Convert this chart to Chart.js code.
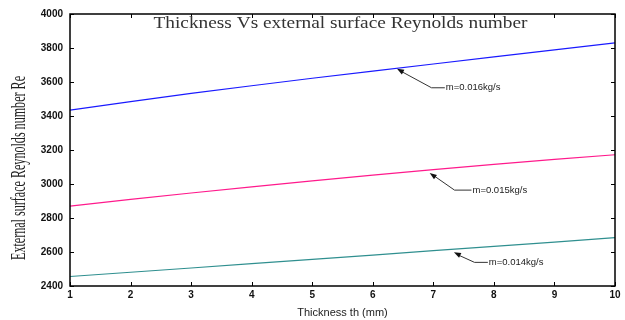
<!DOCTYPE html>
<html>
<head>
<meta charset="utf-8">
<script src="https://cdn.jsdelivr.net/npm/chart.js@4.4.1/dist/chart.umd.min.js"></script>
<style>
  html, body { margin: 0; padding: 0; background: #fff; }
  #wrap { width: 625px; height: 320px; }
</style>
</head>
<body>
<div id="wrap"><canvas id="c" width="625" height="320"></canvas></div>
<script>
// ---- data ----
const thickness = [1, 2, 3, 4, 5, 6, 7, 8, 9, 10];
const re016 = [3435, 3485, 3533, 3578, 3622, 3664, 3706, 3748, 3789, 3830];
const re015 = [2870, 2910, 2947, 2983, 3018, 3052, 3085, 3116, 3145, 3172];
const re014 = [2456, 2481, 2506, 2532, 2557, 2582, 2608, 2633, 2658, 2684];
const xTicks = [1, 2, 3, 4, 5, 6, 7, 8, 9, 10];
const yTicks = [2400, 2600, 2800, 3000, 3200, 3400, 3600, 3800, 4000];
const seriesLabels = ['m=0.016kg/s', 'm=0.015kg/s', 'm=0.014kg/s'];
const titleText = 'Thickness Vs external surface Reynolds number';
const xTitle = 'Thickness th (mm)';
const yTitle = 'External surface Reynolds number Re';

// callouts in data coordinates: arrow tip, elbow, end of leader
const callouts = [
  { text: seriesLabels[0], tip: [6.40, 3678], elbow: [6.97, 3566], end: [7.19, 3566] },
  { text: seriesLabels[1], tip: [6.94, 3064], elbow: [7.35, 2964], end: [7.63, 2964] },
  { text: seriesLabels[2], tip: [7.34, 2598], elbow: [7.68, 2539], end: [7.90, 2539] }
];

const toXY = arr => arr.map((v, i) => ({ x: thickness[i], y: v }));

const framePlugin = {
  id: 'frame',
  afterDatasetsDraw(chart) {
    const { ctx, chartArea: a, scales: { x, y } } = chart;
    ctx.save();
    // inward ticks on all four sides
    ctx.strokeStyle = '#000';
    ctx.lineWidth = 1;
    const tl = 4;
    ctx.beginPath();
    xTicks.forEach(t => {
      const px = Math.round(x.getPixelForValue(t)) + 0.5;
      ctx.moveTo(px, a.bottom); ctx.lineTo(px, a.bottom - tl);
      ctx.moveTo(px, a.top); ctx.lineTo(px, a.top + tl);
    });
    yTicks.forEach(t => {
      const py = Math.round(y.getPixelForValue(t)) + 0.5;
      ctx.moveTo(a.left, py); ctx.lineTo(a.left + tl, py);
      ctx.moveTo(a.right, py); ctx.lineTo(a.right - tl, py);
    });
    ctx.stroke();
    // frame
    ctx.lineWidth = 1.5;
    ctx.strokeRect(a.left, a.top, a.right - a.left, a.bottom - a.top);

    // title inside plot
    ctx.fillStyle = '#333';
    ctx.font = '17px "Liberation Serif", "Times New Roman", serif';
    ctx.textAlign = 'center';
    ctx.textBaseline = 'middle';
    const tw = ctx.measureText(titleText).width;
    const cx = (a.left + a.right) / 2 - 2;
    ctx.save();
    ctx.translate(cx, a.top + 10);
    ctx.scale(374 / tw, 1);
    ctx.fillText(titleText, 0, 0);
    ctx.restore();

    // y axis title (condensed serif)
    ctx.save();
    ctx.font = '20px "Liberation Serif", "Times New Roman", serif';
    const yw = ctx.measureText(yTitle).width;
    ctx.translate(20, 168);
    ctx.rotate(-Math.PI / 2);
    ctx.scale(184 / yw, 1);
    ctx.fillStyle = '#222';
    ctx.fillText(yTitle, 0, 0);
    ctx.restore();

    // callouts
    callouts.forEach(c => {
      const tx = x.getPixelForValue(c.tip[0]), ty = y.getPixelForValue(c.tip[1]);
      const ex = x.getPixelForValue(c.elbow[0]), ey = y.getPixelForValue(c.elbow[1]);
      const nx = x.getPixelForValue(c.end[0]), ny = y.getPixelForValue(c.end[1]);
      ctx.strokeStyle = '#333';
      ctx.lineWidth = 1;
      ctx.beginPath();
      ctx.moveTo(nx, ny); ctx.lineTo(ex, ey); ctx.lineTo(tx + 4, ty + 2.5);
      ctx.stroke();
      // arrow head
      const ang = Math.atan2(ty - ey, tx - ex);
      const L = 7, W = 2.6;
      ctx.fillStyle = '#111';
      ctx.beginPath();
      ctx.moveTo(tx, ty);
      ctx.lineTo(tx - L * Math.cos(ang) + W * Math.sin(ang), ty - L * Math.sin(ang) - W * Math.cos(ang));
      ctx.lineTo(tx - L * Math.cos(ang) - W * Math.sin(ang), ty - L * Math.sin(ang) + W * Math.cos(ang));
      ctx.closePath();
      ctx.fill();
      ctx.fillStyle = '#222';
      ctx.font = '9.5px "Liberation Sans", Arial, sans-serif';
      ctx.textAlign = 'left';
      ctx.textBaseline = 'middle';
      ctx.fillText(c.text, nx + 1, ny);
    });
    ctx.restore();
  }
};

new Chart(document.getElementById('c'), {
  type: 'line',
  data: {
    datasets: [
      { label: seriesLabels[0], data: toXY(re016), borderColor: '#1a1aff', borderWidth: 1.2, pointRadius: 0, tension: 0 },
      { label: seriesLabels[1], data: toXY(re015), borderColor: '#ff1a8c', borderWidth: 1.2, pointRadius: 0, tension: 0 },
      { label: seriesLabels[2], data: toXY(re014), borderColor: '#2f8f8f', borderWidth: 1.2, pointRadius: 0, tension: 0 }
    ]
  },
  options: {
    responsive: false,
    animation: false,
    devicePixelRatio: 1,
    layout: { padding: { top: 14, right: 10, left: 0, bottom: 0 } },
    plugins: { legend: { display: false }, tooltip: { enabled: false }, title: { display: false } },
    scales: {
      x: {
        type: 'linear', min: 1, max: 10,
        afterBuildTicks: s => { s.ticks = xTicks.map(v => ({ value: v })); },
        afterFit: s => { s.height = 34; },
        grid: { display: false, drawTicks: false },
        border: { display: false },
        ticks: { padding: 3, color: '#111', callback: v => String(v), font: { family: '"Liberation Sans", Arial, sans-serif', size: 10, weight: 'bold' }, maxRotation: 0 },
        title: {
          display: true, text: xTitle, color: '#222',
          font: { family: '"Liberation Sans", Arial, sans-serif', size: 11 },
          padding: { top: 4, bottom: 0 }
        }
      },
      y: {
        type: 'linear', min: 2400, max: 4000,
        afterBuildTicks: s => { s.ticks = yTicks.map(v => ({ value: v })); },
        afterFit: s => { s.width = 70; },
        grid: { display: false, drawTicks: false },
        border: { display: false },
        ticks: { padding: 7, color: '#111', callback: v => String(v), font: { family: '"Liberation Sans", Arial, sans-serif', size: 10, weight: 'bold' } }
      }
    }
  },
  plugins: [framePlugin]
});
</script>
</body>
</html>
